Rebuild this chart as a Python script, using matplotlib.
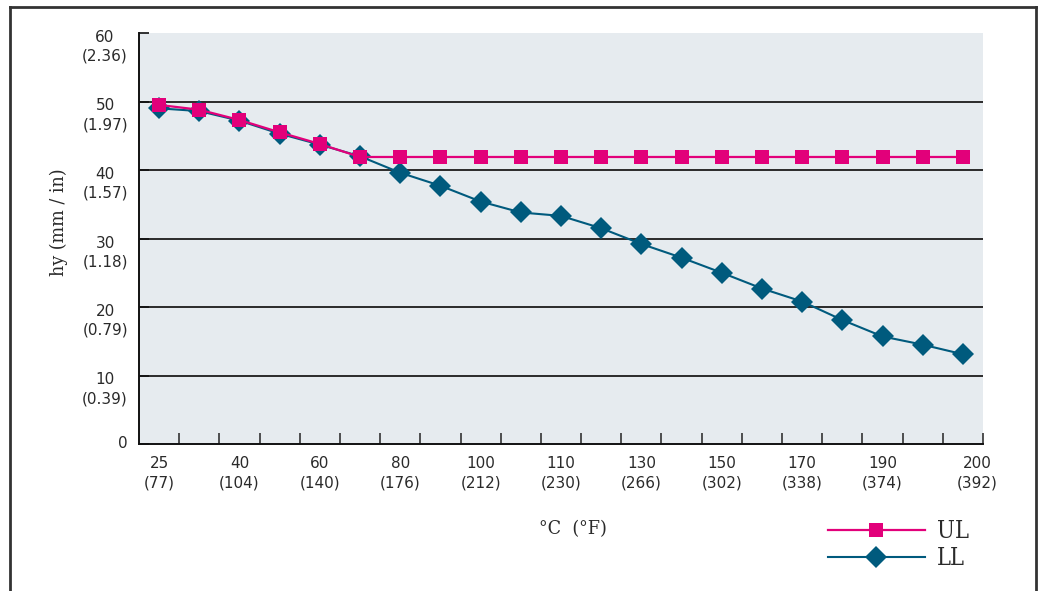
import matplotlib
matplotlib.use("Agg")
import matplotlib.pyplot as plt
from matplotlib.lines import Line2D
from matplotlib.transforms import ScaledTranslation
from matplotlib.font_manager import FontProperties

# Temperature categories (°C / °F); only every second one is labelled
temp_labels = ["25\n(77)", "", "40\n(104)", "", "60\n(140)", "", "80\n(176)", "",
               "100\n(212)", "", "110\n(230)", "", "130\n(266)", "", "150\n(302)", "",
               "170\n(338)", "", "190\n(374)", "", "200\n(392)"]

# Height hy in mm
ul_values = [49.5, 48.8, 47.3, 45.5, 43.8, 41.9, 41.9, 41.9, 41.9, 41.9, 41.9,
             41.9, 41.9, 41.9, 41.9, 41.9, 41.9, 41.9, 41.9, 41.9, 41.9]
ll_values = [49.0, 48.6, 47.2, 45.3, 43.7, 42.0, 39.6, 37.7, 35.4, 33.8, 33.3,
             31.5, 29.2, 27.2, 25.0, 22.7, 20.8, 18.1, 15.7, 14.5, 13.1]

y_ticks = [0, 10, 20, 30, 40, 50, 60]
y_labels = ["0", "10\n(0.39)", "20\n(0.79)", "30\n(1.18)", "40\n(1.57)",
            "50\n(1.97)", "60\n(2.36)"]

PINK = "#E2007A"
BLUE = "#005A7D"
BG = "#E6EBEF"
TXT = "#2a2a2a"

serif_label = FontProperties(family="DejaVu Serif", stretch="condensed", size=14)
serif_legend = FontProperties(family="DejaVu Serif", stretch="condensed", size=17)

fig = plt.figure(figsize=(10.43, 5.91), dpi=100)
ax = fig.add_axes([139 / 1043, 1 - 444 / 591, (983 - 139) / 1043, (444 - 33) / 591])
ax.set_facecolor(BG)

x = list(range(len(temp_labels)))
ax.set_xlim(-0.5, len(temp_labels) - 0.5)
ax.set_ylim(0, 60)

# horizontal grid lines
for yv in y_ticks[1:-1]:
    ax.axhline(yv, color="#2a2a2a", lw=1.4, zorder=1)

ll_line, = ax.plot(x, ll_values, color=BLUE, lw=1.5, marker="D", ms=11.5,
                   markeredgewidth=0, zorder=3)
ul_line, = ax.plot(x, ul_values, color=PINK, lw=1.6, marker="s", ms=10.5,
                   markeredgewidth=0, zorder=4)

for side in ("top", "right"):
    ax.spines[side].set_visible(False)
for side in ("left", "bottom"):
    ax.spines[side].set_color("#111111")
    ax.spines[side].set_linewidth(1.4)

# x axis: labels at category centres, tick marks at category boundaries
ax.set_xticks(x, temp_labels)
ax.set_xticks([i + 0.5 for i in x], minor=True)
ax.tick_params(axis="x", which="major", length=0, pad=9, labelsize=11, labelcolor=TXT)
ax.tick_params(axis="x", which="minor", direction="in", length=8, width=1.2, color="#333333")
for lab in ax.get_xticklabels():
    lab.set_multialignment("center")
    lab.set_linespacing(1.35)
last = ax.get_xticklabels()[-1]
last.set_transform(last.get_transform() + ScaledTranslation(14 / 100, 0, fig.dpi_scale_trans))

# y axis
ax.set_yticks(y_ticks, y_labels)
ax.tick_params(axis="y", direction="in", length=7, width=1.2, color="#111111",
               pad=8, labelsize=11, labelcolor=TXT)
for lab, yv in zip(ax.get_yticklabels(), y_ticks):
    lab.set_multialignment("center")
    lab.set_linespacing(1.3)
    lab.set_verticalalignment("center" if yv == 0 else "top")
    if yv != 0:
        lab.set_transform(lab.get_transform() + ScaledTranslation(0, 3 / 100, fig.dpi_scale_trans))

fig.text(59 / 1043, 1 - 222 / 591, "hy (mm / in)", rotation=90, ha="center", va="center",
         fontproperties=serif_label, color=TXT)
fig.text(573 / 1043, 1 - 529 / 591, "°C  (°F)", ha="center", va="center",
         fontproperties=serif_label, color=TXT)

# legend
leg = fig.legend([ul_line, ll_line], ["UL", "LL"], loc="center left",
                 bbox_to_anchor=(828 / 1043, 1 - 545 / 591), frameon=False,
                 borderpad=0, borderaxespad=0,
                 handlelength=4.1, handletextpad=0.5, labelspacing=0.15,
                 prop=serif_legend)
for t in leg.get_texts():
    t.set_color(TXT)

# outer frame (open at the bottom)
frame_kw = dict(color="#333333", lw=2, transform=fig.transFigure)
fig.add_artist(Line2D([10 / 1043, 10 / 1043], [0, 1 - 7 / 591], **frame_kw))
fig.add_artist(Line2D([10 / 1043, 1036 / 1043], [1 - 7 / 591, 1 - 7 / 591], **frame_kw))
fig.add_artist(Line2D([1036 / 1043, 1036 / 1043], [0, 1 - 7 / 591], **frame_kw))

fig.savefig("out.png", dpi=100)
